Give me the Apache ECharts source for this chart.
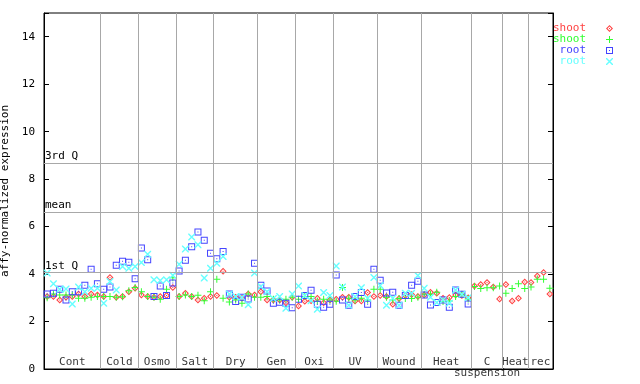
<!DOCTYPE html>
<html><head><meta charset="utf-8">
<script src="https://cdn.jsdelivr.net/npm/echarts@6/dist/echarts.min.js"></script>
<style>html,body{margin:0;padding:0;background:#fff}#c{width:640px;height:384px}</style>
</head><body><div id="c"></div>
<script>
const groupNames = ['Cont','Cold','Osmo','Salt','Dry','Gen','Oxi','UV','Wound','Heat','C\nsuspension','Heat','rec'];
const groupSizes = [9,6,6,6,7,6,6,7,7,8,5,4,4];
const yTicks = [0,2,4,6,8,10,12,14];
const quartiles = [{name:'3rd Q', value:8.68},{name:'mean', value:6.61},{name:'1st Q', value:4.08}];

const shootRed = [3.05,3.05,2.91,3.02,3.06,3.16,3.06,3.16,3.12,
 3.06,3.86,3.02,3.06,3.26,3.40,
 3.12,3.05,3.02,3.06,3.10,3.43,
 3.06,3.19,3.06,2.91,2.98,3.06,
 3.10,4.12,3.02,3.02,2.98,3.16,3.12,
 3.26,2.91,2.91,2.91,2.79,3.02,
 2.65,2.85,2.88,2.98,2.79,2.91,
 2.94,3.02,3.02,2.87,2.87,3.22,3.06,
 3.10,3.06,2.73,2.97,3.10,3.14,3.06,
 3.12,3.23,3.19,2.98,3.01,3.12,3.10,3.00,
 3.50,3.56,3.64,3.45,2.95,
 3.56,2.87,2.98,3.67,
 3.64,3.92,4.07,3.16];
const shootGreen = [3.00,3.16,3.12,3.12,3.12,2.98,2.98,3.02,3.06,
 3.06,3.06,3.02,3.04,3.30,3.43,
 3.26,3.05,3.02,2.94,3.36,3.85,
 3.06,3.12,3.06,3.11,2.88,3.26,
 3.78,2.98,2.82,2.91,2.77,3.16,3.02,
 3.02,3.05,2.94,2.91,2.94,3.02,
 2.94,3.05,3.06,2.85,2.94,2.91,
 2.85,3.43,2.98,2.91,2.98,2.91,3.36,
 3.36,3.02,2.91,2.97,2.97,2.97,3.02,
 3.15,3.15,3.23,2.84,2.87,3.05,3.15,2.95,
 3.48,3.39,3.42,3.42,3.50,
 3.19,3.39,3.59,3.39,
 3.45,3.78,3.78,3.40];
const rootBlue = [3.16,3.19,3.36,2.91,3.26,3.26,3.53,4.20,3.59,
 3.36,3.45,4.37,4.54,4.50,3.80,
 5.10,4.60,3.05,3.50,3.10,3.62,
 4.13,4.58,5.15,5.77,5.43,4.88,
 4.65,4.95,3.16,2.84,3.02,2.95,4.46,
 3.53,3.29,2.77,2.81,2.77,2.58,
 2.94,3.10,3.32,2.73,2.60,2.73,
 3.96,2.91,2.69,3.06,3.22,2.73,4.20,
 3.74,3.20,3.23,2.69,3.10,3.53,3.70,
 3.12,2.70,2.80,2.91,2.60,3.33,3.15,2.74,
 null,null,null,null,null,null,null,null,null,null,null,null,null];
const rootCyan = [4.04,3.59,3.36,3.37,2.74,3.45,3.26,3.40,3.40,
 2.77,3.69,3.33,4.32,4.25,4.32,
 4.49,4.84,3.76,3.73,3.76,3.95,
 4.41,5.06,5.56,5.23,3.83,4.25,
 4.46,4.74,3.16,3.05,3.02,2.71,4.04,
 3.48,3.26,2.97,3.06,2.56,3.16,
 3.50,3.10,2.88,2.52,3.22,3.10,
 4.34,3.45,2.69,3.06,3.42,2.98,3.86,
 3.52,2.69,2.98,2.69,3.19,3.19,3.94,
 3.40,3.02,2.80,2.91,2.77,3.33,3.15,3.00,
 null,null,null,null,null,null,null,null,null,null,null,null,null];

const FONT = 'DejaVu Sans Mono';
const RED='#ff4444', GREEN='#33ff33', BLUE='#4444ff', CYAN='#66ffff';
const SYM = {
  diamond: 'path://M3.5,0L7,3.5L3.5,7L0,3.5Z M3.5,1.5L1.5,3.5L3.5,5.5L5.5,3.5Z M3,3H4V4H3Z',
  plus: 'path://M3,0H4V7H3Z M0,3H7V4H0Z',
  square: 'path://M0,0H7V7H0Z M1,1V6H6V1Z M3,3H4V4H3Z',
  cross: 'path://M0,0L1,0L7,6L7,7L6,7L0,1Z M6,0L7,0L7,1L1,7L0,7L0,6Z'
};
const total = groupSizes.reduce((a,b)=>a+b,0);
const bounds = []; const centers = [];
let acc = 0;
groupSizes.forEach((s,k)=>{ centers.push([acc + s/2, 0.5, groupNames[k]]); acc += s; if (k < groupSizes.length-1) bounds.push(acc); });

function pts(arr){ return arr.map((v,i)=> v==null ? null : [i+0.5, v]); }
function sc(name, arr, sym, color){
  return {name, type:'scatter', data: pts(arr), symbol: sym, symbolSize: 7,
    itemStyle:{color, opacity:1}, emphasis:{disabled:true}, z:3};
}

const chart = echarts.init(document.getElementById('c'), null, {renderer:'canvas'});
chart.setOption({
  animation:false,
  backgroundColor:'#fff',
  grid:{left:44, right:87, top:13, bottom:15, show:true, borderColor:'#000', borderWidth:1, containLabel:false, outerBoundsMode:'none'},
  xAxis:{type:'value', min:0, max:total, axisLine:{show:true, lineStyle:{color:'#000'}}, axisTick:{show:false}, axisLabel:{show:false}, splitLine:{show:false}},
  yAxis:[{type:'value', min:0, max:15, interval:2, name:'affy-normalized expression', nameLocation:'middle', nameGap:26,
    nameTextStyle:{fontFamily:FONT, fontSize:11, color:'#000'},
    axisLine:{show:true, lineStyle:{color:'#000'}}, axisTick:{show:true, inside:true, length:5, lineStyle:{color:'#000'}},
    axisLabel:{fontFamily:FONT, fontSize:11, color:'#000', margin:9, formatter:v=> yTicks.includes(v)? String(v):''}, splitLine:{show:false}},
   {type:'value', min:0, max:15, interval:2, position:'right', axisLine:{show:true, lineStyle:{color:'#000'}},
    axisTick:{show:true, inside:true, length:5, lineStyle:{color:'#000'}}, axisLabel:{show:false}, splitLine:{show:false}}],
  legend:{orient:'vertical', left:541, top:18, itemWidth:7, itemHeight:7, itemGap:0, align:'right', selectedMode:false,
    formatter: n => n.replace(/\d/,''),
    textStyle:{fontFamily:FONT, fontSize:11, lineHeight:11, width:40, align:'right', padding:[0,15,0,0]},
    data:[{name:'shoot1', textStyle:{color:RED}},{name:'shoot2', textStyle:{color:GREEN}},
          {name:'root1', textStyle:{color:BLUE}},{name:'root2', textStyle:{color:CYAN}}]},
  series:[
    {name:'groups', type:'scatter', data:centers, symbolSize:0, z:1, silent:true,
     label:{show:true, position:'inside', formatter:p=>p.data[2], fontFamily:FONT, fontSize:11, lineHeight:11, color:'#000', verticalAlign:'top', align:'center'},
     markLine:{silent:true, symbol:'none', animation:false,
       lineStyle:{color:'#a8a8a8', width:1, type:'solid'},
       data: bounds.map(b=>({xAxis:b, label:{show:false}})).concat(
         quartiles.map(q=>({yAxis:q.value, label:{show:true, formatter:q.name, position:'insideStartTop', distance:[1,1], fontFamily:FONT, fontSize:11, color:'#000'}})))}},
    sc('shoot1', shootRed, SYM.diamond, RED),
    sc('shoot2', shootGreen, SYM.plus, GREEN),
    sc('root1', rootBlue, SYM.square, BLUE),
    sc('root2', rootCyan, SYM.cross, CYAN)
  ]
});
</script></body></html>
